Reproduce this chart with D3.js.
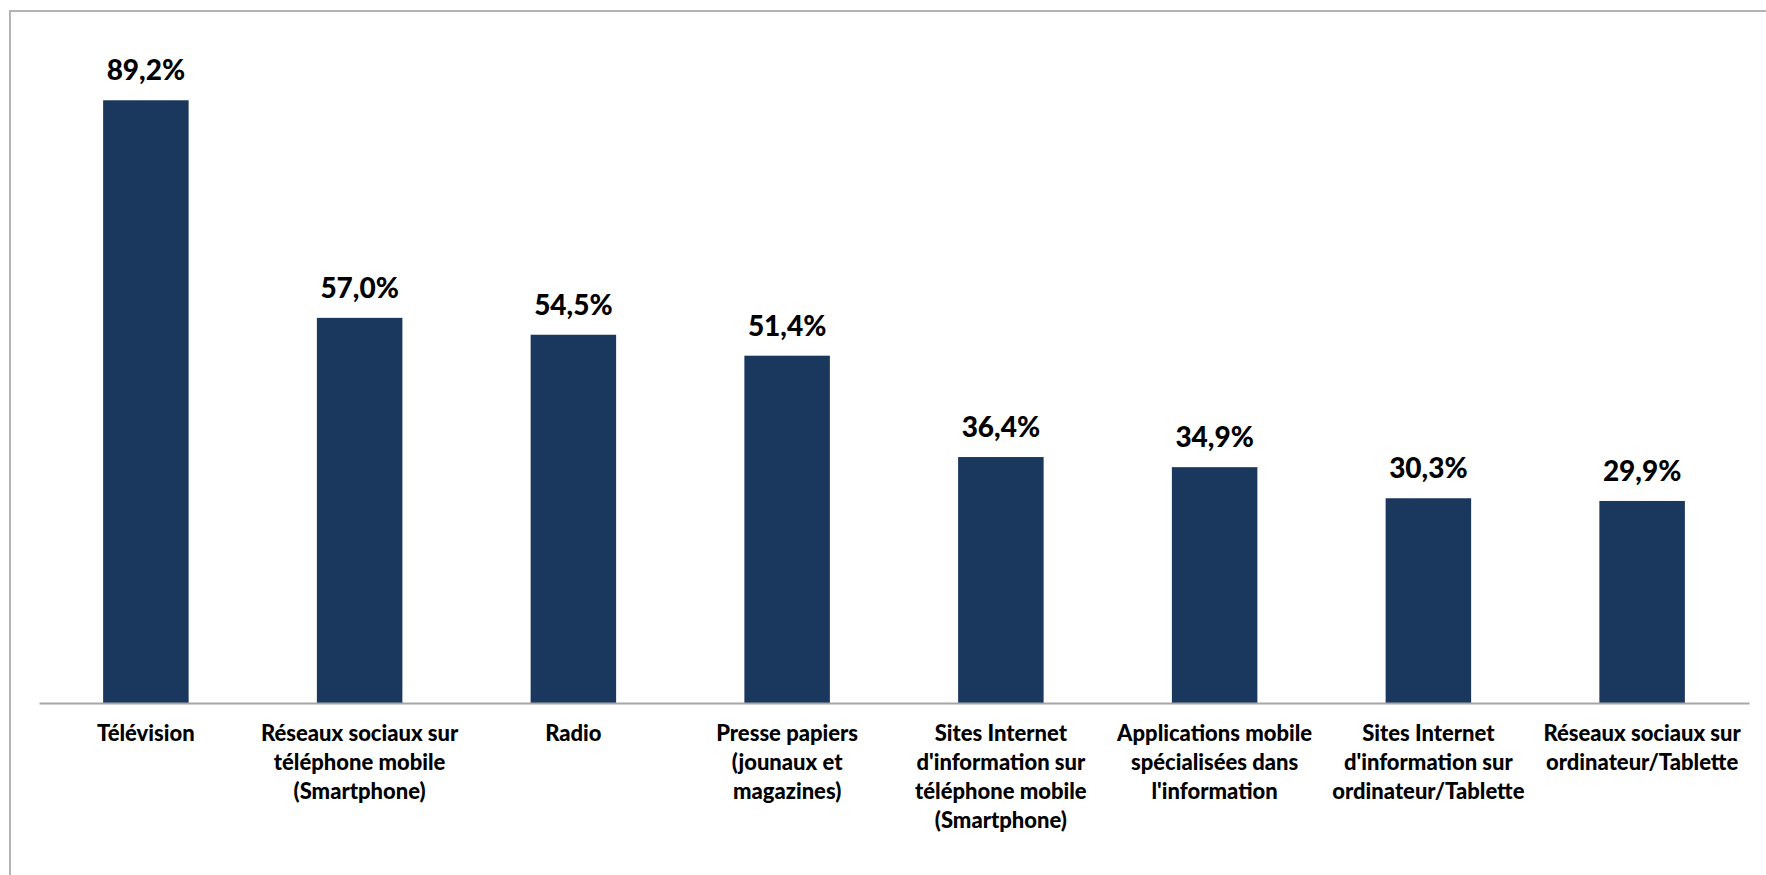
<!DOCTYPE html>
<html>
<head>
<meta charset="utf-8">
<script src="https://cdn.jsdelivr.net/npm/d3@7"></script>
<style>
  html, body { margin: 0; padding: 0; background: #fff; }
  svg { display: block; }
  text { font-family: Lato, "Open Sans", sans-serif; font-weight: bold; fill: #000; }
</style>
</head>
<body>
<svg id="chart" width="1766" height="875"></svg>
<script>
const categories = [
  "Télévision",
  "Réseaux sociaux sur téléphone mobile (Smartphone)",
  "Radio",
  "Presse papiers (jounaux et magazines)",
  "Sites Internet d'information sur téléphone mobile (Smartphone)",
  "Applications mobile spécialisées dans l'information",
  "Sites Internet d'information sur ordinateur/Tablette",
  "Réseaux sociaux sur ordinateur/Tablette"
];
const categoryLines = [
  ["Télévision"],
  ["Réseaux sociaux sur", "téléphone mobile", "(Smartphone)"],
  ["Radio"],
  ["Presse papiers", "(jounaux et", "magazines)"],
  ["Sites Internet", "d'information sur", "téléphone mobile", "(Smartphone)"],
  ["Applications mobile", "spécialisées dans", "l'information"],
  ["Sites Internet", "d'information sur", "ordinateur/Tablette"],
  ["Réseaux sociaux sur", "ordinateur/Tablette"]
];
const values = [89.2, 57.0, 54.5, 51.4, 36.4, 34.9, 30.3, 29.9];
const valueLabels = ["89,2%", "57,0%", "54,5%", "51,4%", "36,4%", "34,9%", "30,3%", "29,9%"];

const svg = d3.select("#chart");

// outer frame
svg.append("rect")
  .attr("x", 10).attr("y", 11)
  .attr("width", 1800).attr("height", 900)
  .attr("fill", "none")
  .attr("stroke", "#b4b4b4")
  .attr("stroke-width", 2);

const x0 = 39, x1 = 1749;
const baseY = 703;
const x = d3.scaleBand()
  .domain(categories)
  .range([x0, x1])
  .paddingInner(0.6)
  .paddingOuter(0.3);
const y = d3.scaleLinear()
  .domain([0, 100])
  .range([baseY, baseY - 675.7]);

svg.append("g")
  .selectAll("rect")
  .data(values)
  .join("rect")
  .attr("x", (d, i) => x(categories[i]))
  .attr("y", d => y(d))
  .attr("width", x.bandwidth())
  .attr("height", d => y(0) - y(d))
  .attr("fill", "#1a375e");

// value labels
svg.append("g")
  .selectAll("text")
  .data(values)
  .join("text")
  .attr("x", (d, i) => x(categories[i]) + x.bandwidth() / 2)
  .attr("y", d => y(d) - 20)
  .attr("text-anchor", "middle")
  .attr("font-size", 28)
  .style("font-weight", 900)
  .text((d, i) => valueLabels[i]);

// x axis
const axis = d3.axisBottom(x).tickSize(0).tickFormat("");
const ax = svg.append("g").attr("transform", `translate(0,${baseY})`).call(axis);
ax.select(".domain").attr("stroke", "#a6a6a6").attr("stroke-width", 2);

// category labels
const lab = svg.append("g")
  .selectAll("text")
  .data(categories)
  .join("text")
  .attr("text-anchor", "middle")
  .attr("font-size", 22)
  .style("font-weight", 900)
  .attr("x", d => x(d) + x.bandwidth() / 2)
  .attr("y", 741);
lab.each(function(d, i) {
  const t = d3.select(this);
  categoryLines[i].forEach((line, j) => {
    t.append("tspan")
      .attr("x", x(d) + x.bandwidth() / 2)
      .attr("y", 741 + j * 29)
      .text(line);
  });
});
</script>
</body>
</html>
